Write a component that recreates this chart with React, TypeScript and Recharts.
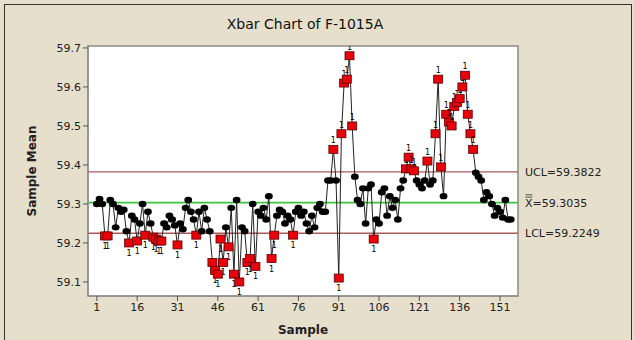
import React from 'react';
import { LineChart, Line, XAxis, YAxis, ReferenceLine, ReferenceArea } from 'recharts';

// sample means, sample 1..155
const sampleMeans = [
  59.3, 59.313, 59.3, 59.218, 59.218, 59.31, 59.3, 59.24, 59.29, 59.28,
  59.285, 59.23, 59.2, 59.27, 59.26, 59.205, 59.25, 59.3, 59.22, 59.28,
  59.25, 59.215, 59.21, 59.205, 59.205, 59.25, 59.24, 59.27, 59.26, 59.245,
  59.195, 59.25, 59.235, 59.29, 59.31, 59.28, 59.26, 59.22, 59.28, 59.23,
  59.29, 59.26, 59.23, 59.15, 59.13, 59.12, 59.21, 59.15, 59.24, 59.19,
  59.29, 59.12, 59.31, 59.1, 59.24, 59.23, 59.15, 59.16, 59.3, 59.14,
  59.28, 59.27, 59.29, 59.26, 59.32, 59.16, 59.22, 59.27, 59.285, 59.28,
  59.25, 59.27, 59.26, 59.22, 59.28, 59.29, 59.27, 59.28, 59.25, 59.23,
  59.27, 59.24, 59.29, 59.3, 59.28, 59.28, 59.36, 59.36, 59.44, 59.36,
  59.11, 59.48, 59.61, 59.62, 59.68, 59.5, 59.37, 59.31, 59.3, 59.34,
  59.25, 59.34, 59.35, 59.21, 59.26, 59.25, 59.33, 59.34, 59.27, 59.32,
  59.29, 59.31, 59.26, 59.34, 59.36, 59.39, 59.42, 59.39, 59.385, 59.36,
  59.35, 59.34, 59.36, 59.41, 59.35, 59.36, 59.48, 59.62, 59.395, 59.32,
  59.53, 59.51, 59.5, 59.55, 59.56, 59.57, 59.6, 59.63, 59.53, 59.48,
  59.44, 59.38, 59.37, 59.36, 59.31, 59.33, 59.32, 59.3, 59.27, 59.29,
  59.28, 59.265, 59.31, 59.26, 59.26,
];

const xTicks = [1, 16, 31, 46, 61, 76, 91, 106, 121, 136, 151];
const yTicks = [59.1, 59.2, 59.3, 59.4, 59.5, 59.6, 59.7];

const UCL = 59.3822;
const CENTER = 59.3035;
const LCL = 59.2249;

const X_DOMAIN = [-2.3, 157.7];
const Y_DOMAIN = [59.064, 59.705];

const data = sampleMeans.map((mean, i) => ({ sample: i + 1, mean }));

const FONT = '"DejaVu Sans", Verdana, sans-serif';

const MeanDot = (props: any) => {
  const { cx, cy, payload, index } = props;
  if (cx == null || cy == null) return null;
  const out = payload.mean > UCL || payload.mean < LCL;
  if (!out) {
    return <ellipse key={index} cx={cx} cy={cy} rx={3.9} ry={3.2} fill="#000" />;
  }
  const above = payload.mean > CENTER;
  return (
    <g key={index}>
      <rect x={cx - 4.5} y={cy - 4} width={9} height={8} fill="#e8000b" stroke="#5a0000" strokeWidth={0.8} />
      <text x={cx} y={above ? cy - 6 : cy + 13} textAnchor="middle" fontSize={8} fill="#000" fontFamily={FONT}>1</text>
    </g>
  );
};

const limitLabel = (name: string, value: number, bar: boolean) => (props: any) => {
  const vb = props.viewBox || {};
  const x = (vb.x ?? 0) + (vb.width ?? 0) + 7;
  const y = (vb.y ?? 0) + 4;
  return (
    <g>
      {bar && (
        <g stroke="#333" strokeWidth={0.8}>
          <line x1={x + 0.5} x2={x + 7.5} y1={y - 9.5} y2={y - 9.5} />
          <line x1={x + 0.5} x2={x + 7.5} y1={y - 11.8} y2={y - 11.8} />
        </g>
      )}
      <text x={x} y={y} fontSize={11} fill="#222" fontFamily={FONT}>
        {`${name}=${value.toFixed(4)}`}
      </text>
    </g>
  );
};

export default function App() {
  return (
    <div style={{ position: 'absolute', left: 0, top: 0, width: 634, height: 340, background: '#e6dfcb', fontFamily: FONT }}>
      <div style={{ position: 'absolute', left: 4, top: 4, width: 626, height: 340, borderTop: '1px solid #333', borderLeft: '1px solid #333', borderRight: '1px solid #333' }} />
      <div style={{ position: 'absolute', left: 0, top: 16, width: 610, textAlign: 'center', fontSize: 14, color: '#111' }}>
        Xbar Chart of F-1015A
      </div>
      <LineChart width={634} height={340} data={data} margin={{ top: 46, right: 116, bottom: 14, left: 30 }}>
        <ReferenceArea x1={X_DOMAIN[0]} x2={X_DOMAIN[1]} y1={Y_DOMAIN[0]} y2={Y_DOMAIN[1]} fill="#fff" fillOpacity={1} stroke="#8a8a8a" strokeWidth={1.5} />
        <XAxis
          dataKey="sample"
          type="number"
          domain={X_DOMAIN}
          ticks={xTicks}
          allowDataOverflow
          height={30}
          axisLine={{ stroke: '#8a8a8a' }}
          tickLine={{ stroke: '#555' }}
          tickSize={5}
          tick={{ fill: '#222', fontSize: 11, fontFamily: FONT }}
          label={{ value: 'Sample', position: 'insideBottom', offset: -8, fill: '#222', fontSize: 12, fontWeight: 'bold', fontFamily: FONT }}
        />
        <YAxis
          type="number"
          domain={Y_DOMAIN}
          ticks={yTicks}
          allowDataOverflow
          width={58}
          axisLine={{ stroke: '#8a8a8a' }}
          tickLine={{ stroke: '#555' }}
          tickSize={5}
          tickFormatter={(v: number) => v.toFixed(1)}
          tick={{ fill: '#222', fontSize: 11, fontFamily: FONT }}
          label={{ value: 'Sample Mean', angle: -90, position: 'insideLeft', offset: 2, fill: '#222', fontSize: 12, fontWeight: 'bold', fontFamily: FONT, style: { textAnchor: 'middle' } }}
        />
        <ReferenceLine y={UCL} stroke="#a85a5a" strokeWidth={1.3} label={limitLabel('UCL', UCL, false)} />
        <ReferenceLine y={CENTER} stroke="#3cc43c" strokeWidth={1.6} label={limitLabel('X', CENTER, true)} />
        <ReferenceLine y={LCL} stroke="#a85a5a" strokeWidth={1.3} label={limitLabel('LCL', LCL, false)} />
        <Line
          dataKey="mean"
          type="linear"
          stroke="#222"
          strokeWidth={1}
          dot={MeanDot}
          activeDot={false}
          isAnimationActive={false}
        />
      </LineChart>
    </div>
  );
}
